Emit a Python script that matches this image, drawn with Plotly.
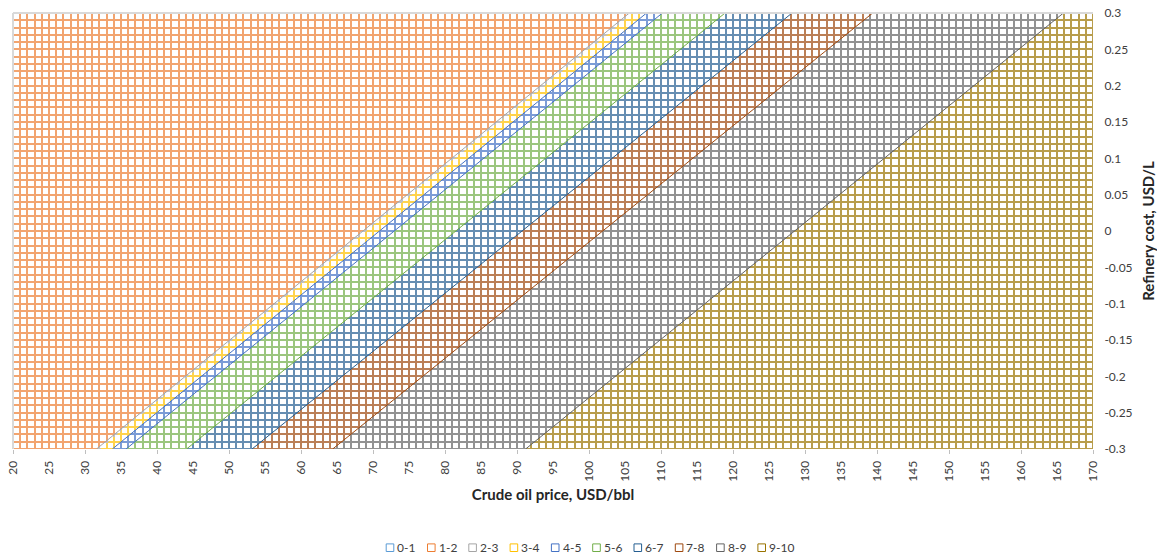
import numpy as np
import plotly.graph_objects as go

# Value bands of the surface and their colours
band_labels = ["0-1", "1-2", "2-3", "3-4", "4-5", "5-6", "6-7", "7-8", "8-9", "9-10"]
band_colors = ["#5B9BD5", "#ED7D31", "#A5A5A5", "#FFC000", "#4472C4",
               "#70AD47", "#255E91", "#9E480E", "#636363", "#997300"]

# Crude price (USD/bbl) at which the surface reaches each level,
# along the lowest and the highest refinery-cost rows
levels = [2, 3, 4, 5, 6, 7, 8, 9]
price_at_min_cost = [31.6, 32.0, 33.8, 35.7, 44.1, 53.2, 64.4, 91.2]
price_at_max_cost = [105.6, 106.2, 108.0, 110.2, 118.9, 128.2, 139.4, 165.9]

# Surface grid
price_min, price_max, price_step = 20, 170, 1
cost_min, cost_max, cost_step = -0.3, 0.3, 0.01

# Tick labels
price_ticks = list(range(20, 171, 5))
price_tick_marks = list(range(20, 171, 10))
cost_ticks = [0.3, 0.25, 0.2, 0.15, 0.1, 0.05, 0, -0.05, -0.1, -0.15, -0.2, -0.25, -0.3]
cost_tick_text = ["0.3", "0.25", "0.2", "0.15", "0.1", "0.05", "0",
                  "-0.05", "-0.1", "-0.15", "-0.2", "-0.25", "-0.3"]

# Band whose colour is used for the contour edge at each level
edge_band = {2: 2, 4: 4, 5: 4, 6: 5, 7: 6, 8: 7, 9: 8}

FONT = "Lato, 'Open Sans', sans-serif"
TEXT = "#404040"


def mix_white(hex_color, t):
    """Blend a colour with white; t=1 keeps the colour."""
    h = hex_color.lstrip("#")
    r, g, b = (int(h[i:i + 2], 16) for i in (0, 2, 4))
    return "rgb({},{},{})".format(*(round(255 - (255 - c) * t) for c in (r, g, b)))


lo = np.array(price_at_min_cost)
hi = np.array(price_at_max_cost)

# Fine field: which band each small patch of the plane belongs to
fx = np.arange(price_min + 0.1, price_max, 0.2)
fy = np.linspace(cost_min + 0.001, cost_max - 0.001, 300)
frac = (fy - cost_min) / (cost_max - cost_min)
bounds = lo[None, :] + frac[:, None] * (hi - lo)[None, :]
band = 1 + (fx[None, :, None] >= bounds[:, None, :]).sum(axis=2)

n = len(band_colors)
line_cols = [mix_white(c, 0.7) for c in band_colors]
scale = []
for i, c in enumerate(line_cols):
    scale += [[i / n, c], [(i + 1) / n, c]]

fig = go.Figure()

# Coloured layer that shows through as the wireframe
fig.add_trace(go.Heatmap(
    x=fx, y=fy, z=band, zmin=-0.5, zmax=n - 0.5,
    colorscale=scale, showscale=False, hoverinfo="skip",
))

# White cells of the surface grid; the gaps between them form the mesh
cx = np.arange(price_min + price_step / 2, price_max, price_step)
cy = np.linspace(cost_min + cost_step / 2, cost_max - cost_step / 2,
                 int(round((cost_max - cost_min) / cost_step)))
fig.add_trace(go.Heatmap(
    x=cx, y=cy, z=np.zeros((len(cy), len(cx))),
    colorscale=[[0, "white"], [1, "white"]], showscale=False,
    xgap=2, ygap=2, hoverinfo="skip",
))

# Contour edges between bands
for lvl, p0, p1 in zip(levels, price_at_min_cost, price_at_max_cost):
    if lvl not in edge_band:
        continue
    fig.add_trace(go.Scatter(
        x=[p0, p1], y=[cost_min, cost_max], mode="lines",
        line=dict(color=band_colors[edge_band[lvl]], width=1),
        showlegend=False, hoverinfo="skip",
    ))

# Carrier for the tick-mark axis
fig.add_trace(go.Scatter(
    x=[price_min, price_max], y=[cost_min, cost_min], xaxis="x2", mode="lines",
    line=dict(color="rgba(0,0,0,0)", width=0), showlegend=False, hoverinfo="skip",
))

# Legend drawn as open squares with labels below the chart
shapes = [
    dict(type="line", xref="paper", yref="paper", x0=0, x1=1, y0=1, y1=1,
         line=dict(color="#D9D9D9", width=2)),
    dict(type="line", xref="paper", yref="paper", x0=0, x1=0, y0=0, y1=1,
         line=dict(color="#D9D9D9", width=2)),
]
annotations = []
plot_w, plot_h = 1080, 436
leg_y = -98.7 / plot_h
first_x = (390 - 13) / plot_w
step_x = 41.3 / plot_w
hx, hy = 3.8 / plot_w, 3.8 / plot_h
for i, (lab, col) in enumerate(zip(band_labels, band_colors)):
    xc = first_x + i * step_x
    shapes.append(dict(type="rect", xref="paper", yref="paper",
                       x0=xc - hx, x1=xc + hx, y0=leg_y - hy, y1=leg_y + hy,
                       line=dict(color=col, width=1), fillcolor="white"))
    annotations.append(dict(xref="paper", yref="paper", x=xc + hx + 1.5 / plot_w, y=leg_y,
                            text=lab, showarrow=False, xanchor="left", yanchor="middle",
                            font=dict(family=FONT, size=12, color=TEXT)))

fig.update_layout(
    width=1157, height=558,
    margin=dict(l=13, r=64, t=13, b=109),
    paper_bgcolor="white", plot_bgcolor="white",
    showlegend=False,
    font=dict(family=FONT, size=12, color=TEXT),
    xaxis=dict(
        range=[price_min, price_max], tickvals=price_ticks,
        ticktext=[str(v) for v in price_ticks], tickangle=-90,
        ticks="outside", ticklen=6, tickcolor="rgba(0,0,0,0)",
        showgrid=False, zeroline=False, showline=False, automargin=False,
        tickfont=dict(family=FONT, size=12, color=TEXT),
        title=dict(text="<b>Crude oil price, USD/bbl</b>", standoff=8,
                   font=dict(family=FONT, size=15, color="#262626")),
    ),
    xaxis2=dict(
        overlaying="x", matches="x", anchor="y", side="bottom",
        tickvals=price_tick_marks, ticks="outside", ticklen=4, tickcolor="#BFBFBF",
        showticklabels=False, showgrid=False, zeroline=False, showline=False,
        automargin=False,
    ),
    yaxis=dict(
        range=[cost_min, cost_max], side="right", tickvals=cost_ticks,
        ticktext=cost_tick_text, ticks="outside", ticklen=8,
        tickcolor="rgba(0,0,0,0)", showgrid=False, zeroline=False, showline=False,
        automargin=False,
        tickfont=dict(family=FONT, size=12, color=TEXT),
        title=dict(text="<b>Refinery cost, USD/L</b>", standoff=21,
                   font=dict(family=FONT, size=15, color="#262626")),
    ),
    shapes=shapes,
    annotations=annotations,
)

fig.write_html("out.html")
